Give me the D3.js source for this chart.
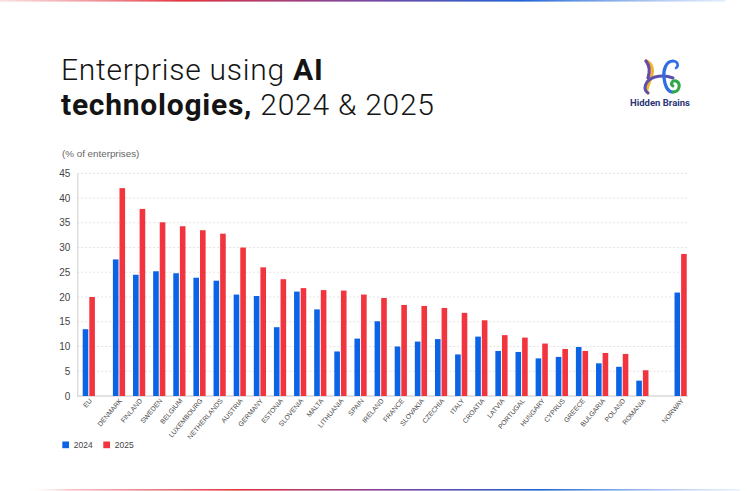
<!DOCTYPE html>
<html>
<head>
<meta charset="utf-8">
<script src="https://cdn.jsdelivr.net/npm/d3@7"></script>
<style>
  html, body { margin: 0; padding: 0; background: #fff; }
  svg { display: block; }
</style>
</head>
<body>
<svg id="chart" width="750" height="491"></svg>
<script>
// ---- data ----
const categories = ["EU", "DENMARK", "FINLAND", "SWEDEN", "BELGIUM", "LUXEMBOURG", "NETHERLANDS",
  "AUSTRIA", "GERMANY", "ESTONIA", "SLOVENIA", "MALTA", "LITHUANIA", "SPAIN", "IRELAND", "FRANCE",
  "SLOVAKIA", "CZECHIA", "ITALY", "CROATIA", "LATVIA", "PORTUGAL", "HUNGARY", "CYPRUS", "GREECE",
  "BULGARIA", "POLAND", "ROMANIA", "NORWAY"];
const values2024 = [13.5, 27.6, 24.5, 25.2, 24.8, 23.9, 23.3, 20.5, 20.2, 13.9, 21.1, 17.5, 9.0, 11.6,
  15.1, 10.0, 11.0, 11.5, 8.4, 12.0, 9.1, 8.9, 7.6, 7.9, 9.9, 6.6, 5.9, 3.1, 20.9];
const values2025 = [20.0, 42.0, 37.8, 35.1, 34.3, 33.5, 32.8, 30.0, 26.0, 23.6, 21.8, 21.4, 21.3, 20.5,
  19.8, 18.4, 18.2, 17.8, 16.8, 15.3, 12.3, 11.8, 10.6, 9.5, 9.1, 8.7, 8.5, 5.2, 28.7];
const seriesNames = ["2024", "2025"];
const yTicks = [0, 5, 10, 15, 20, 25, 30, 35, 40, 45];

// ---- layout ----
const svg = d3.select("#chart");
const colors = ["#0b63e6", "#f2343e"];
const plot = { left: 77.3, right: 688, top: 173.3, bottom: 396 };

// slot positions: gap after EU and before NORWAY
const slotPos = categories.map((c, i) => {
  if (i === 0) return 0;
  if (i === categories.length - 1) return i + 0.5 + 0.9;
  return i + 0.5;
});
const x = d3.scaleLinear().domain([0, 1]).range([82.7, 82.7 + 20.13]);
const y = d3.scaleLinear().domain([0, 45]).range([plot.bottom, plot.top]);
const barW = 5.6, barGap = 1.0;

// top & bottom gradient strips
const defs = svg.append("defs");
const g1 = defs.append("linearGradient").attr("id", "topGrad");
[["0%", "#f6c9cc", 0.6], ["25%", "#e2343f", 1], ["50%", "#7b45a0", 1], ["72%", "#1f63d6", 1], ["100%", "#cfe0f8", 0.6]]
  .forEach(s => g1.append("stop").attr("offset", s[0]).attr("stop-color", s[1]).attr("stop-opacity", s[2]));
const g2 = defs.append("linearGradient").attr("id", "botGrad");
[["0%", "#ffffff", 0], ["6%", "#f7c6c9", 1], ["30%", "#e2343f", 1], ["52%", "#7b45a0", 1], ["72%", "#1f63d6", 1], ["100%", "#dbe8fb", 0.6]]
  .forEach(s => g2.append("stop").attr("offset", s[0]).attr("stop-color", s[1]).attr("stop-opacity", s[2]));
svg.append("rect").attr("x", 0).attr("y", 0).attr("width", 725).attr("height", 1.6).attr("fill", "url(#topGrad)");
svg.append("rect").attr("x", 25).attr("y", 489).attr("width", 715).attr("height", 1.6).attr("fill", "url(#botGrad)");

// title
const title = svg.append("g").attr("font-family", "Roboto, 'Noto Sans', sans-serif").attr("fill", "#141414")
  .attr("letter-spacing", 0.75);
const t1 = title.append("text").attr("x", 61).attr("y", 80).attr("font-size", 30);
t1.append("tspan").attr("font-weight", 300).text("Enterprise using ");
t1.append("tspan").attr("font-weight", 700).text("AI");
const t2 = title.append("text").attr("x", 61).attr("y", 115).attr("font-size", 30);
t2.append("tspan").attr("font-weight", 700).text("technologies,");
t2.append("tspan").attr("font-weight", 300).text(" 2024 & 2025");

// logo
const logo = svg.append("g").attr("fill", "none").attr("stroke-linecap", "round");
logo.append("path").attr("d", "M646,61 C652,63 654,70 651,78 C648,86 645,92 648,93")
  .attr("stroke", "#f2b526").attr("stroke-width", 3.2);
logo.append("path").attr("d", "M646,61 C650,66 650,72 648,78").attr("stroke", "#6a4aa8").attr("stroke-width", 3.2);
logo.append("path").attr("d", "M648,93 C643,90 644,80 655,77 C664,75 668,76 673,78")
  .attr("stroke", "#5b4fb0").attr("stroke-width", 3);
logo.append("path").attr("d", "M673,61 C666,61 663,70 664,78 C665,86 667,92 673,92")
  .attr("stroke", "#2f6fe0").attr("stroke-width", 3.2);
logo.append("path").attr("d", "M673,61 C678,61 679,66 676,68").attr("stroke", "#2f6fe0").attr("stroke-width", 2.6);
logo.append("path").attr("d", "M673,92 C680,92 681,83 676,81 C672,80 670,84 673,86")
  .attr("stroke", "#2fa84a").attr("stroke-width", 3);
svg.append("text").attr("x", 660).attr("y", 106).attr("text-anchor", "middle")
  .attr("font-family", "Roboto, sans-serif").attr("font-weight", 700).attr("font-size", 9.5)
  .attr("fill", "#2c3577").text("Hidden Brains");

// y axis title
svg.append("text").attr("x", 62).attr("y", 157).attr("font-family", "'Liberation Sans', Arial, sans-serif")
  .attr("font-size", 9.8).attr("fill", "#666").text("(% of enterprises)");

// gridlines
svg.append("g").selectAll("line").data(yTicks.filter(t => t > 0)).join("line")
  .attr("x1", plot.left).attr("x2", plot.right)
  .attr("y1", d => y(d)).attr("y2", d => y(d))
  .attr("stroke", "#dcdcdc").attr("stroke-width", 0.8).attr("stroke-dasharray", "2,2");

// y axis
const yAxis = d3.axisLeft(y).tickValues(yTicks).tickSize(0).tickPadding(7);
const ya = svg.append("g").attr("transform", `translate(${plot.left},0)`).call(yAxis);
ya.select(".domain").attr("stroke", "#cfcfcf");
ya.selectAll("text").attr("font-family", "'Liberation Sans', Arial, sans-serif").attr("font-size", 10).attr("fill", "#444");

// baseline
svg.append("line").attr("x1", plot.left).attr("x2", plot.right).attr("y1", y(0)).attr("y2", y(0))
  .attr("stroke", "#c4c4c4").attr("stroke-width", 1);

// bars
const series = [values2024, values2025];
series.forEach((vals, s) => {
  svg.append("g").selectAll("rect").data(vals).join("rect")
    .attr("x", (d, i) => x(slotPos[i]) + s * (barW + barGap))
    .attr("y", d => y(d))
    .attr("width", barW)
    .attr("height", d => y(0) - y(d))
    .attr("fill", colors[s]);
});

// x labels
svg.append("g").selectAll("text").data(categories).join("text")
  .attr("transform", (d, i) => `translate(${x(slotPos[i]) + barW + 4},${plot.bottom + 5}) rotate(-50)`)
  .attr("text-anchor", "end")
  .attr("font-family", "'Liberation Sans', Arial, sans-serif")
  .attr("font-size", 6.8).attr("fill", "#444")
  .text(d => d);

// legend
const leg = svg.append("g").selectAll("g").data(seriesNames).join("g")
  .attr("transform", (d, i) => `translate(${62.3 + i * 41},441.5)`);
leg.append("rect").attr("width", 6.7).attr("height", 6.7).attr("fill", (d, i) => colors[i]);
leg.append("text").attr("x", 11.5).attr("y", 6.6).attr("font-family", "'Liberation Sans', Arial, sans-serif")
  .attr("font-size", 8.5).attr("fill", "#444").text(d => d);
</script>
</body>
</html>
